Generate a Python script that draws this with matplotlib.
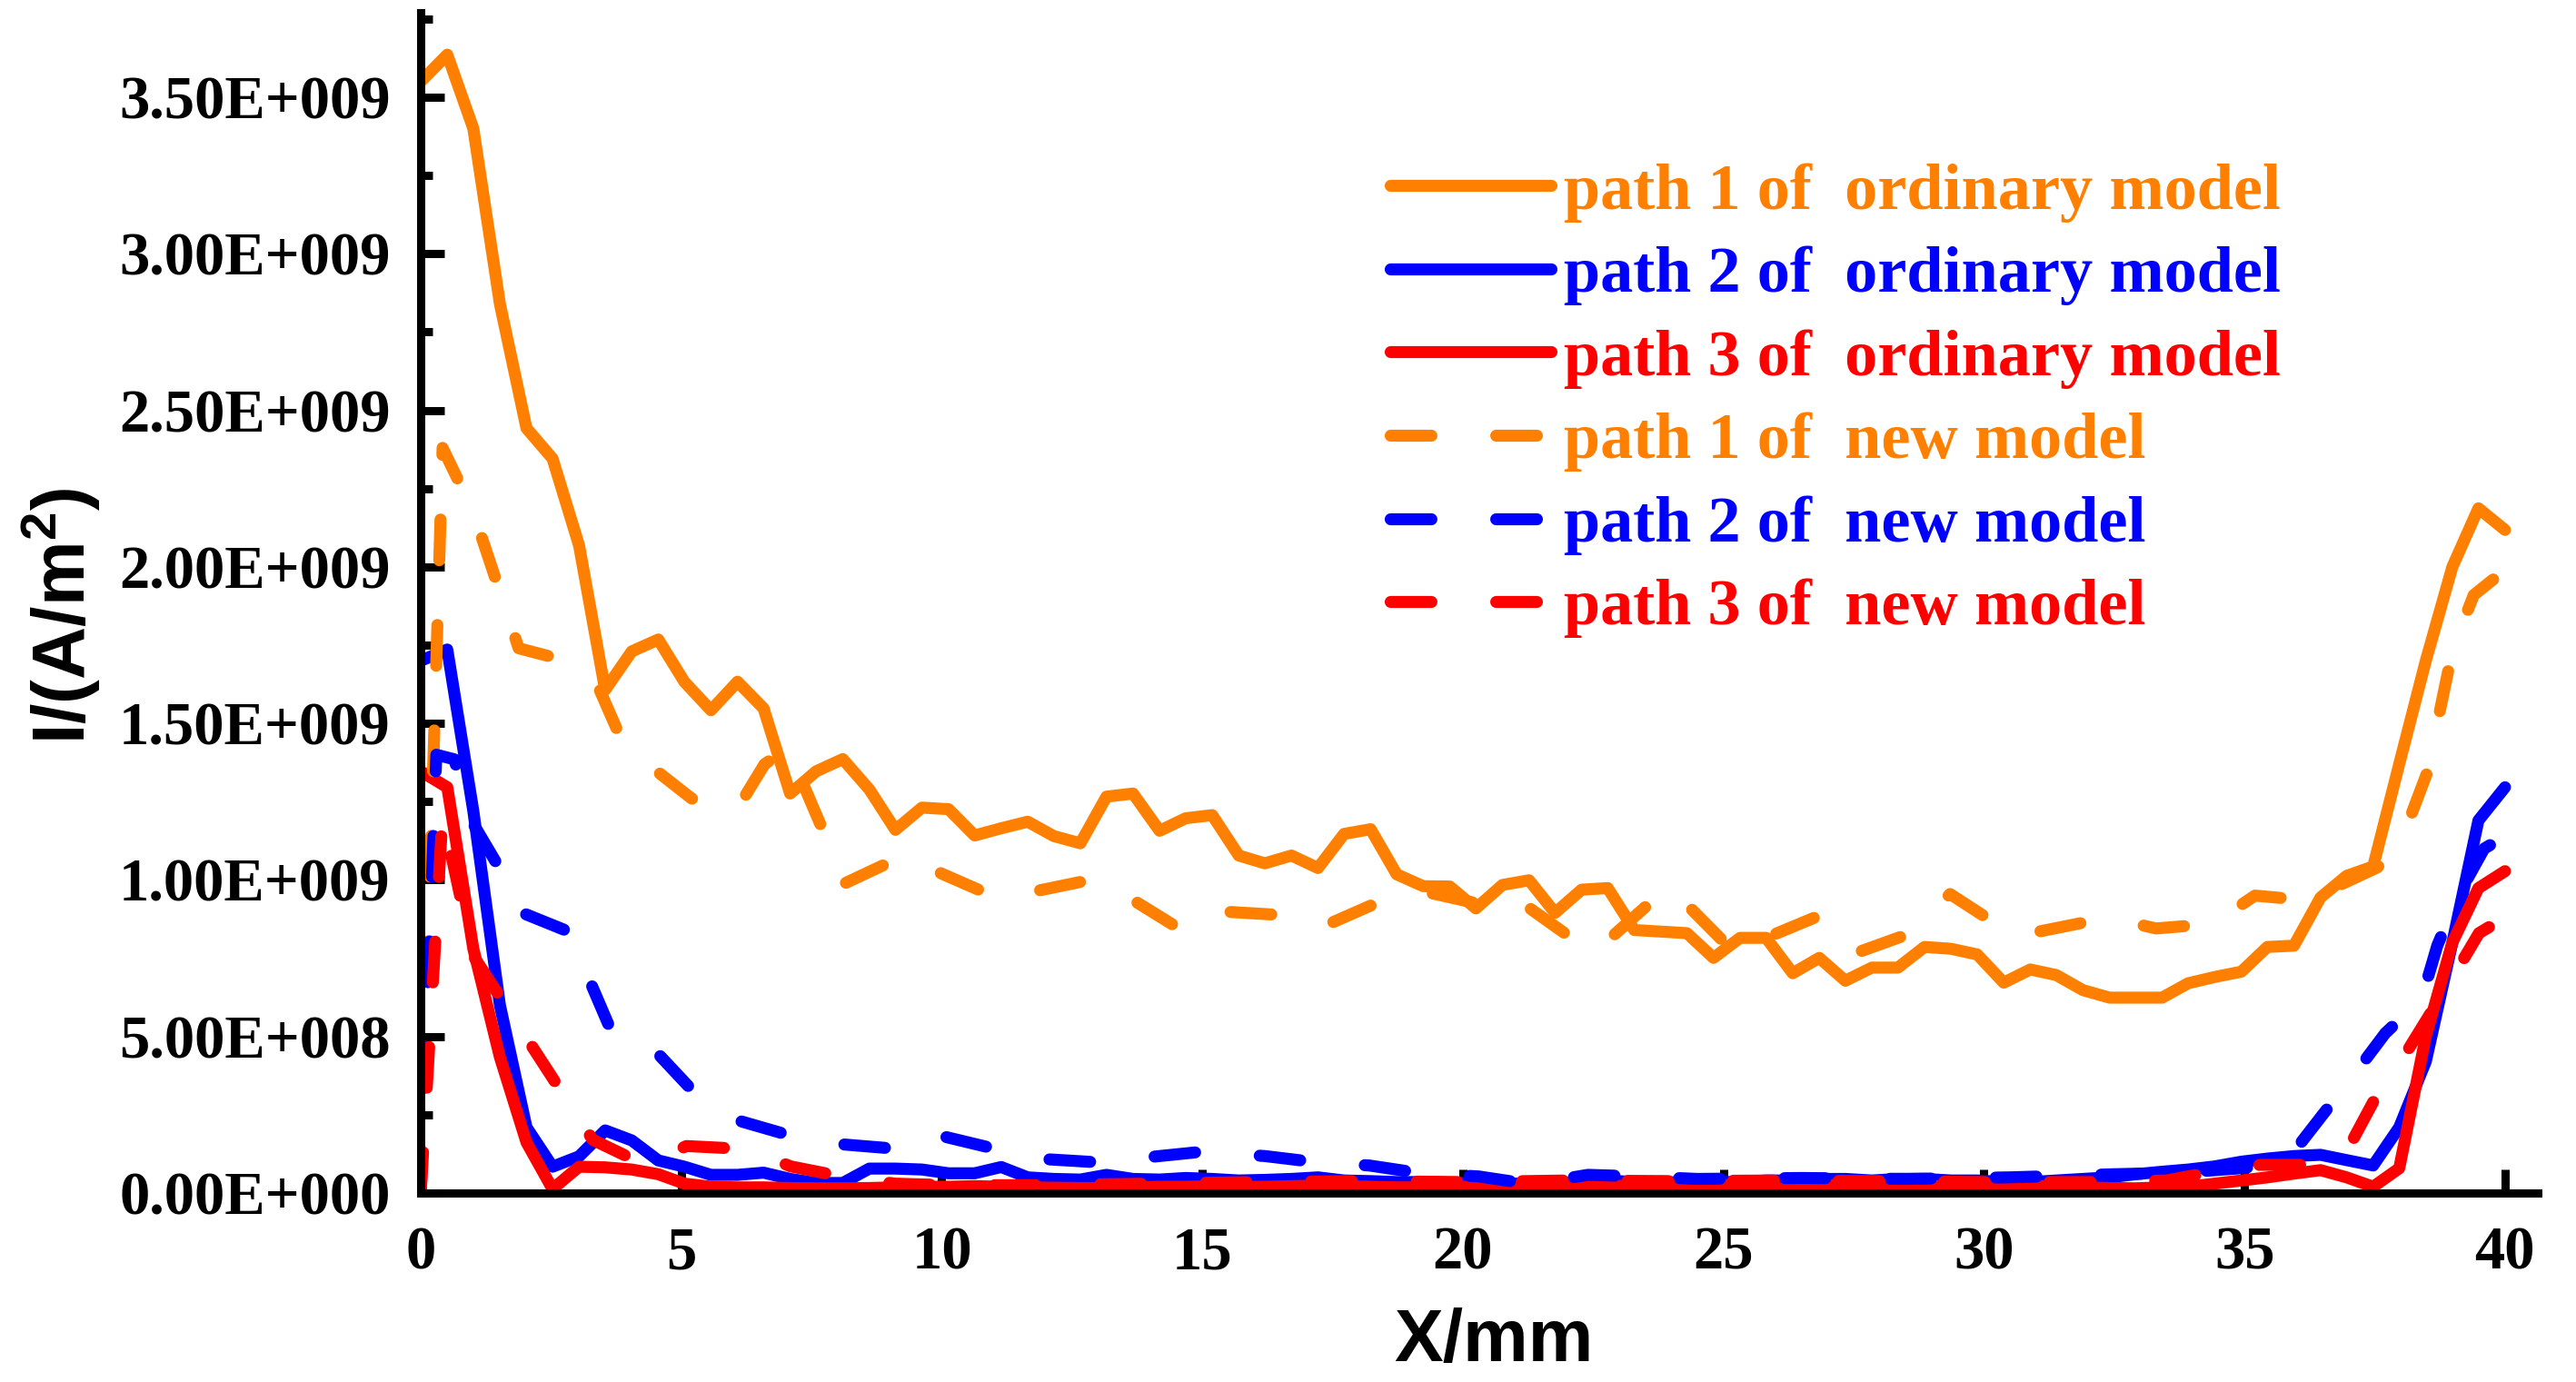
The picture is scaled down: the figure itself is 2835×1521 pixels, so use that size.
import numpy as np
import matplotlib
matplotlib.use('Agg')
import matplotlib.pyplot as plt
from matplotlib.ticker import MultipleLocator, FuncFormatter

# ---- data (current density in 1E+009 A/m2) ----
# ordinary model: 80 samples along the path
x_ordinary = [0.00, 0.51, 1.01, 1.52, 2.03, 2.53, 3.04, 3.54, 4.05, 4.56,
              5.06, 5.57, 6.08, 6.58, 7.09, 7.59, 8.10, 8.61, 9.11, 9.62,
              10.13, 10.63, 11.14, 11.65, 12.15, 12.66, 13.16, 13.67, 14.18, 14.68,
              15.19, 15.70, 16.20, 16.71, 17.22, 17.72, 18.23, 18.73, 19.24, 19.75,
              20.25, 20.76, 21.27, 21.77, 22.28, 22.78, 23.29, 23.80, 24.30, 24.81,
              25.32, 25.82, 26.33, 26.84, 27.34, 27.85, 28.35, 28.86, 29.37, 29.87,
              30.38, 30.89, 31.39, 31.90, 32.41, 32.91, 33.42, 33.92, 34.43, 34.94,
              35.44, 35.95, 36.46, 36.96, 37.47, 37.97, 38.48, 38.99, 39.49, 40.00]

path1_ordinary = [3.55, 3.636, 3.40, 2.84, 2.443, 2.346, 2.068, 1.607, 1.73, 1.768,
                  1.633, 1.542, 1.633, 1.548, 1.276, 1.347, 1.386, 1.289, 1.16, 1.231,
                  1.226, 1.142, 1.165, 1.186, 1.14, 1.117, 1.266, 1.276, 1.157, 1.197,
                  1.207, 1.078, 1.053, 1.078, 1.038, 1.147, 1.162, 1.018, 0.98, 0.979,
                  0.909, 0.984, 0.999, 0.895, 0.969, 0.974, 0.84, 0.835, 0.83, 0.751,
                  0.815, 0.815, 0.702, 0.751, 0.678, 0.72, 0.72, 0.786, 0.78, 0.762,
                  0.672, 0.714, 0.696, 0.648, 0.624, 0.624, 0.624, 0.67, 0.69, 0.707,
                  0.786, 0.79, 0.944, 1.013, 1.043, 1.37, 1.70, 2.0, 2.187, 2.118]

path2_ordinary = [1.70, 1.736, 1.22, 0.60, 0.21, 0.084, 0.117, 0.20, 0.168, 0.104,
                  0.084, 0.058, 0.058, 0.065, 0.045, 0.032, 0.032, 0.078, 0.078, 0.075,
                  0.063, 0.063, 0.083, 0.05, 0.045, 0.043, 0.058, 0.045, 0.043, 0.048,
                  0.045, 0.04, 0.042, 0.045, 0.05, 0.04, 0.038, 0.035, 0.035, 0.033,
                  0.033, 0.03, 0.03, 0.032, 0.035, 0.04, 0.035, 0.035, 0.033, 0.035,
                  0.035, 0.04, 0.04, 0.045, 0.045, 0.04, 0.045, 0.045, 0.04, 0.04,
                  0.035, 0.035, 0.04, 0.045, 0.05, 0.06, 0.068, 0.075, 0.085, 0.10,
                  0.11, 0.118, 0.122, 0.105, 0.088, 0.21, 0.42, 0.80, 1.19, 1.296]

path3_ordinary = [1.347, 1.296, 0.78, 0.434, 0.162, 0.013, 0.084, 0.082, 0.075, 0.06,
                  0.03, 0.02, 0.018, 0.018, 0.016, 0.015, 0.015, 0.016, 0.018, 0.02,
                  0.02, 0.022, 0.02, 0.018, 0.017, 0.016, 0.016, 0.018, 0.02, 0.02,
                  0.022, 0.02, 0.02, 0.022, 0.024, 0.022, 0.02, 0.018, 0.018, 0.02,
                  0.02, 0.02, 0.022, 0.024, 0.025, 0.024, 0.022, 0.022, 0.025, 0.026,
                  0.024, 0.022, 0.022, 0.025, 0.026, 0.025, 0.024, 0.022, 0.022, 0.024,
                  0.025, 0.024, 0.02, 0.018, 0.016, 0.015, 0.018, 0.02, 0.03, 0.04,
                  0.05, 0.062, 0.073, 0.05, 0.02, 0.079, 0.5, 0.8, 0.974, 1.028]

# new model
x_new1 = [0, 0.42, 1.0, 1.88, 2.8, 3.4, 3.9, 5.2, 6.05, 6.6,
          7.05, 8.15, 9.3, 10.0, 11.1, 12.7, 13.0, 14.6, 15.3, 16.5,
          17.3, 18.6, 19.2, 20.3, 20.9, 22.5, 23.95, 25.2, 25.6, 26.9,
          27.6, 28.6, 29.35, 30.6, 32.4, 33.3, 34.4, 35.2, 36.2, 37.55,
          38.0, 38.5, 39.0, 39.4, 40.0]
path1_new = [0, 2.38, 2.18, 1.74, 1.70, 1.62, 1.43, 1.26, 1.22, 1.37,
             1.42, 0.99, 1.08, 1.02, 0.94, 0.995, 1.005, 0.84, 0.90, 0.888,
             0.85, 0.945, 0.965, 0.924, 0.955, 0.765, 0.98, 0.77, 0.80, 0.89,
             0.77, 0.83, 0.955, 0.82, 0.88, 0.845, 0.86, 0.95, 0.935, 1.04,
             1.12, 1.34, 1.74, 1.91, 1.99]

x_new2 = [0, 0.3, 0.65, 0.9, 1.45, 1.8, 2.84, 3.65, 4.3, 5.2,
          6.0, 7.0, 8.05, 9.0, 9.5, 10.0, 11.0, 12.0, 13.0, 14.0,
          15.0, 16.2, 17.2, 18.2, 19.2, 20.3, 21.3, 22.4, 23.4, 24.5,
          26.5, 28.5, 30.5, 32.5, 33.8, 35.0, 35.8, 36.5, 37.1, 37.7,
          38.4, 38.7, 39.1, 39.6, 40.0]
path2_new = [0, 1.40, 1.385, 1.21, 1.055, 0.905, 0.835, 0.52, 0.49, 0.33,
             0.236, 0.188, 0.156, 0.143, 0.185, 0.182, 0.142, 0.108, 0.098, 0.115,
             0.132, 0.118, 0.098, 0.088, 0.063, 0.053, 0.028, 0.058, 0.053, 0.045,
             0.048, 0.045, 0.05, 0.06, 0.065, 0.08, 0.10, 0.25, 0.377, 0.51,
             0.62, 0.79, 0.95, 1.10, 1.14]

x_new3 = [0, 0.42, 1.0, 3.3, 4.3, 5.1, 6.3, 7.1, 8.1, 9.1,
          10.1, 12.0, 14.0, 16.0, 18.0, 20.0, 22.0, 24.0, 26.0, 28.0,
          30.0, 32.0, 33.5, 34.3, 35.3, 36.5, 37.0, 37.5, 38.0, 39.0,
          39.5, 40.0]
path3_new = [0, 1.21, 0.76, 0.17, 0.09, 0.15, 0.14, 0.085, 0.052, 0.03,
             0.025, 0.025, 0.03, 0.035, 0.038, 0.035, 0.04, 0.038, 0.04, 0.038,
             0.035, 0.035, 0.04, 0.065, 0.09, 0.09, 0.145, 0.3, 0.42, 0.69,
             0.83, 0.88]

labels = ['path 1 of  ordinary model', 'path 2 of  ordinary model',
          'path 3 of  ordinary model', 'path 1 of  new model',
          'path 2 of  new model', 'path 3 of  new model']
colors = ['#FF8000', '#0000FF', '#FF0000']

# ---- style ----
plt.rcParams['font.family'] = ['Liberation Serif', 'DejaVu Serif']
plt.rcParams['font.weight'] = 'bold'
plt.rcParams['mathtext.fontset'] = 'custom'
plt.rcParams['mathtext.rm'] = 'Liberation Sans:bold'
plt.rcParams['mathtext.bf'] = 'Liberation Sans:bold'


def sci_label(v, pos):
    mant, exp = f"{v:.2E}".split('E')
    return f"{mant}E{exp[0]}{int(exp[1:]):03d}"


fig = plt.figure(figsize=(28.35, 15.21), dpi=100)
ax = fig.add_axes([463 / 2835, 208 / 1521, 2330 / 2835, 1299 / 1521])

lw = 9.5
dashes = (0, (3.4, 5.4))

series = [
    (x_ordinary, path1_ordinary, colors[0], '-'),
    (x_ordinary, path2_ordinary, colors[1], '-'),
    (x_ordinary, path3_ordinary, colors[2], '-'),
    (x_new1, path1_new, colors[0], dashes),
    (x_new2, path2_new, colors[1], dashes),
    (x_new3, path3_new, colors[2], dashes),
]
for (xs, ys, c, ls), lab in zip(series, labels):
    ax.plot(xs, np.array(ys) * 1e9, color=c, lw=lw, ls=ls, label=lab,
            solid_capstyle='round', dash_capstyle='round',
            solid_joinstyle='round', dash_joinstyle='round')

ax.set_xlim(0, 40.63)
ax.set_ylim(0, 3.77e9)

for s in ['top', 'right']:
    ax.spines[s].set_visible(False)
for s in ['left', 'bottom']:
    ax.spines[s].set_linewidth(6.5)

ax.xaxis.set_major_locator(MultipleLocator(5))
ax.yaxis.set_major_locator(MultipleLocator(0.5e9))
ax.yaxis.set_minor_locator(MultipleLocator(0.25e9))
ax.yaxis.set_major_formatter(FuncFormatter(sci_label))

ax.tick_params(which='major', direction='in', length=19, width=6.5, labelsize=48)
ax.tick_params(axis='y', which='minor', direction='in', length=9.5, width=6.5)
ax.tick_params(axis='y', which='major', pad=24)
ax.tick_params(axis='x', which='major', pad=26)

ax.set_xlabel('X/mm', fontsize=58, fontfamily='Liberation Sans',
              fontweight='bold', va='center')
ax.xaxis.set_label_coords(0.507, -0.126)
ax.set_ylabel(r'I/(A/m$^{\mathbf{2}}$)', fontsize=58,
              fontfamily='Liberation Sans', fontweight='bold', va='center')
ax.yaxis.set_label_coords(-0.17, 0.489)

ax.legend(loc='upper left', bbox_to_anchor=(1530 / 2835, 1 - 179 / 1521),
          bbox_transform=fig.transFigure, frameon=False,
          prop={'family': 'Liberation Serif', 'weight': 'bold', 'size': 52},
          handlelength=2.45, handletextpad=0.2, labelspacing=0.36,
          borderpad=0, borderaxespad=0, labelcolor='linecolor')

fig.savefig('out.png', dpi=100, facecolor='white')
